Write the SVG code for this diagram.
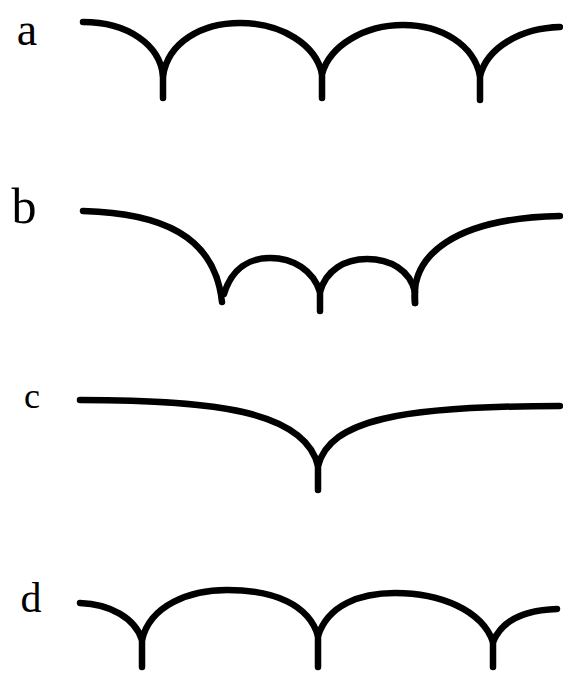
<svg xmlns="http://www.w3.org/2000/svg" width="563" height="674" viewBox="0 0 563 674">
<style>
.c{fill:none;stroke:#000;stroke-width:6.5;stroke-linecap:round;stroke-linejoin:round}
.l{font-family:"Liberation Serif",serif;fill:#000;text-anchor:middle}
</style>
<rect width="563" height="674" fill="#fff"/>
<g id="curve-a">
<text class="l" x="27" y="45" font-size="46">a</text>
<path class="c" d="M83,22 C128,22 160,45 163,76 C168,42 202,23 240,23 C282,23 316,45 322,74 C330,45 365,25 403,25 C442,25 474,45 480,76 C487,48 520,28 560,27"/>
<path class="c" d="M163,70 V98 M322,70 V98 M480,72 V100"/>
</g>
<g id="curve-b">
<text class="l" x="24" y="223" font-size="50">b</text>
<path class="c" d="M83,211 C160,213 215,235 222,302"/>
<path class="c" d="M224,294 C232,268 250,258 270,258 C293,258 313,270 320,292 C326,270 345,259 367,259 C390,259 410,270 415,292"/>
<path class="c" d="M320,288 V311 M415,288 V303"/>
<path class="c" d="M415,303 C410,255 455,218 560,216"/>
</g>
<g id="curve-c">
<text class="l" x="32" y="408" font-size="36">c</text>
<path class="c" d="M80,400 C210,400 305,410 318,466 C330,420 400,406 560,406"/>
<path class="c" d="M318,460 V490"/>
</g>
<g id="curve-d">
<text class="l" x="31" y="612" font-size="42">d</text>
<path class="c" d="M80,603 C110,604 135,618 142,640 C150,605 190,590 227,590 C275,590 309,605 318,636 C328,605 360,593 395,593 C440,593 482,610 493,642 C502,620 525,610 557,609"/>
<path class="c" d="M142,635 V667 M318,630 V667 M493,638 V667"/>
</g>
</svg>
